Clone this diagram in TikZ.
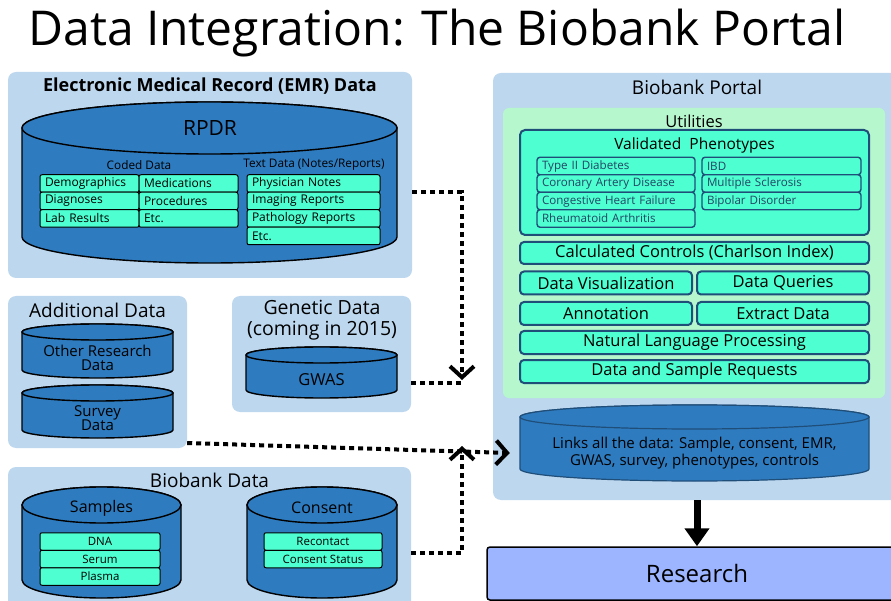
\documentclass[tikz,border=0pt]{standalone}
\usepackage{fontspec}
\setmainfont{Open Sans}
\usetikzlibrary{arrows.meta}
\usetikzlibrary{calc}

\definecolor{panelblue}{HTML}{BDD7EE}
\definecolor{dbblue}{HTML}{2E7BBF}
\definecolor{mint}{HTML}{4DFFD1}
\definecolor{utilgreen}{HTML}{B6F7CE}
\definecolor{navy}{HTML}{1F4E79}
\definecolor{research}{HTML}{9DB5FF}
\definecolor{phenotext}{HTML}{234563}

\newcommand{\fsz}[1]{\fontsize{#1}{#1}\selectfont}

\tikzset{
	panel/.style = {fill = panelblue, rounded corners = 8pt, inner sep = 0pt},
	cylfill/.style = {fill = dbblue, draw = black, line width = 1.4pt},
	linkcyl/.style = {fill = dbblue, draw = navy, line width = 1.2pt},
	cell/.style = {draw = black, line width = 1pt, fill = mint, rounded corners = 2pt,
			minimum height = 17.5pt, inner ysep = 0pt, inner xsep = 5pt,
			text width = #1, align = left, font = \fsz{12}},
	smallcell/.style = {draw = black, line width = 1pt, fill = mint, rounded corners = 2pt,
			minimum height = 17.5pt, minimum width = #1, inner sep = 0pt, font = \fsz{11.5}},
	phenocell/.style = {draw = navy, line width = 1.4pt, fill = mint, rounded corners = 3pt,
			minimum height = 17.5pt, inner ysep = 0pt, inner xsep = 5pt,
			text width = #1, align = left, font = \fsz{11.6}, text = phenotext},
	tool/.style = {draw = navy, line width = 2pt, fill = mint, rounded corners = 4pt,
			minimum height = 23pt, minimum width = #1, inner sep = 0pt, font = \fsz{16.5}},
	dotlink/.style = {line width = 4pt, dash pattern = on 5pt off 4pt},
	barb/.style = {-{Straight Barb[length = 11pt, width = 24pt, line width = 4pt]}},
	bigarrow/.style = {line width = 7pt, -{Triangle[length = 18pt, width = 24pt]}},
}

% cylinder: [style] x1, x2, top, bottom, y radius (picture units)
\newcommand{\dbcyl}[6][cylfill]{
	\pgfmathsetmacro{\cylrx}{(#3 - #2)/2}
	\pgfmathsetmacro{\cylcx}{(#3 + #2)/2}
	\pgfmathsetmacro{\cylya}{#4 + #6}
	\pgfmathsetmacro{\cylyb}{#5 - #6}
	\filldraw[#1] (#2, \cylya) -- (#2, \cylyb)
		arc[start angle = 180, end angle = 360, x radius = \cylrx pt, y radius = #6pt]
		-- (#3, \cylya)
		arc[start angle = 0, end angle = 180, x radius = \cylrx pt, y radius = #6pt] -- cycle;
	\draw[#1] (\cylcx, \cylya) ellipse[x radius = \cylrx pt, y radius = #6pt];
}

\begin{document}
\begin{tikzpicture}[x = 1pt, y = -1pt]
	\useasboundingbox (0, 0) rectangle (891, 601);

	\node[font = \fsz{48}] (title) at (437, 33) {Data Integration: The Biobank Portal};

	% EMR
	\node[panel, minimum width = 404pt, minimum height = 206pt] (emr) at (210, 175) {};
	\node[font = \fsz{18}\bfseries] (emrtitle) at (210, 86) {Electronic Medical Record (EMR) Data};
	\dbcyl{22}{397}{102}{263}{26}
	\node[font = \fsz{21}] (rpdr) at (210, 128) {RPDR};
	\node[font = \fsz{11.8}] (coded) at (139, 165) {Coded Data};
	\node[font = \fsz{11.8}] (textdata) at (314, 165) {Text Data (Notes/Reports)};
	\foreach \txt [count = \i] in {Demographics, Diagnoses, Lab Results} {
			\node[cell = 89pt] (codeda\i) at (89.5, 166 + 17.5*\i) {\txt};
		}
	\foreach \txt [count = \i] in {Medications, Procedures, Etc.} {
			\node[cell = 89pt] (codedb\i) at (188.5, 166 + 17.5*\i) {\txt};
		}
	\foreach \txt [count = \i] in {Physician Notes, Imaging Reports, Pathology Reports, Etc.} {
			\node[cell = 123pt] (notes\i) at (313.5, 166 + 17.5*\i) {\txt};
		}

	% additional data
	\node[panel, minimum width = 179pt, minimum height = 152pt] (additional) at (97.5, 372) {};
	\node[font = \fsz{19}] (addtitle) at (97.5, 310) {Additional Data};
	\dbcyl{22}{173}{324}{378}{8}
	\node[font = \fontsize{15}{14.5}\selectfont, align = center] (otherres) at (97.5, 358) {Other Research\\Data};
	\dbcyl{22}{173}{385}{438}{8}
	\node[font = \fontsize{15}{14.5}\selectfont, align = center] (survey) at (97.5, 418) {Survey\\Data};

	% genetic data
	\node[panel, minimum width = 179pt, minimum height = 116pt] (genetic) at (321.5, 354) {};
	\node[font = \fontsize{19.5}{21}\selectfont, align = center] (gentitle) at (322, 320) {Genetic Data\\(coming in 2015)};
	\dbcyl{246}{397}{347}{398}{8}
	\node[font = \fsz{16.5}] (gwas) at (321.5, 380) {GWAS};

	% biobank data
	\node[panel, minimum width = 403pt, minimum height = 145pt] (biobank) at (209.5, 539.5) {};
	\node[font = \fsz{19}] (biotitle) at (209.5, 480) {Biobank Data};
	\dbcyl{22}{181}{487}{598}{18}
	\node[font = \fsz{16}] (samples) at (101.5, 508) {Samples};
	\foreach \txt [count = \i] in {DNA, Serum, Plasma} {
			\node[smallcell = 120pt] (sample\i) at (100, 524 + 17.5*\i) {\txt};
		}
	\dbcyl{247}{397}{487}{598}{18}
	\node[font = \fsz{16}] (consent) at (322, 508) {Consent};
	\foreach \txt [count = \i] in {Recontact, Consent Status} {
			\node[smallcell = 118pt] (consent\i) at (323, 524 + 17.5*\i) {\txt};
		}

	% portal
	\node[panel, minimum width = 408pt, minimum height = 427pt] (portal) at (697, 286.5) {};
	\node[font = \fsz{19}] (portaltitle) at (697, 87) {Biobank Portal};
	\node[fill = utilgreen, rounded corners = 6pt, minimum width = 382pt, minimum height = 290pt] (utilities) at (694, 253) {};
	\node[font = \fsz{16.5}] (utiltitle) at (694, 121) {Utilities};
	\node[draw = navy, line width = 2pt, fill = mint, rounded corners = 5pt,
		minimum width = 349pt, minimum height = 105pt] (validated) at (694.5, 182.5) {};
	\node[font = \fsz{15.5}] (valtitle) at (694.5, 145) {Validated~~Phenotypes};
	\foreach \txt [count = \i] in {Type II Diabetes, Coronary Artery Disease, Congestive Heart Failure, Rheumatoid Arthritis} {
			\node[phenocell = 148pt] (phenoa\i) at (616, 148.5 + 17.5*\i) {\txt};
		}
	\foreach \txt [count = \i] in {IBD, Multiple Sclerosis, Bipolar Disorder} {
			\node[phenocell = 149pt] (phenob\i) at (781.5, 148.5 + 17.5*\i) {\txt};
		}
	\node[tool = 349pt, minimum height = 22pt] (controls) at (694.5, 253) {Calculated Controls (Charlson Index)};
	\node[tool = 172pt] (visual) at (606, 283) {Data Visualization};
	\node[tool = 172pt] (queries) at (783, 283) {Data Queries};
	\node[tool = 172pt] (annot) at (606, 313.5) {Annotation};
	\node[tool = 172pt] (extract) at (783, 313.5) {Extract Data};
	\node[tool = 349pt] (nlp) at (694.5, 342.5) {Natural Language Processing};
	\node[tool = 349pt] (requests) at (694.5, 371.5) {Data and Sample Requests};

	\dbcyl[linkcyl]{520}{869}{405}{481}{12}
	\node[font = \fontsize{15}{17}\selectfont, align = center, minimum width = 349pt, inner sep = 0pt] (links) at (694.5, 453)
		{Links all the data: Sample, consent, EMR,\\GWAS, survey, phenotypes, controls};

	% research
	\node[draw = black, line width = 1.5pt, fill = research, rounded corners = 3pt,
		minimum width = 420pt, minimum height = 53pt, font = \fsz{24}] (research) at (697, 573.5) {Research};

	% connectors
	\coordinate (hub) at (462, 443);
	\draw[dotlink, barb] ([yshift = -17pt]emr.east) -| ([yshift = 63pt]hub);
	\draw[dotlink] ([yshift = -29pt]genetic.east) -- ([yshift = 60pt]hub);
	\draw[dotlink, barb] (additional.east |- hub) -- ([xshift = -10pt]links.west);
	\draw[dotlink, barb] ([yshift = -13.5pt]biobank.east) -| ([yshift = -3pt]hub);
	\draw[bigarrow] (portal.south) -- (research.north);
\end{tikzpicture}
\end{document}
